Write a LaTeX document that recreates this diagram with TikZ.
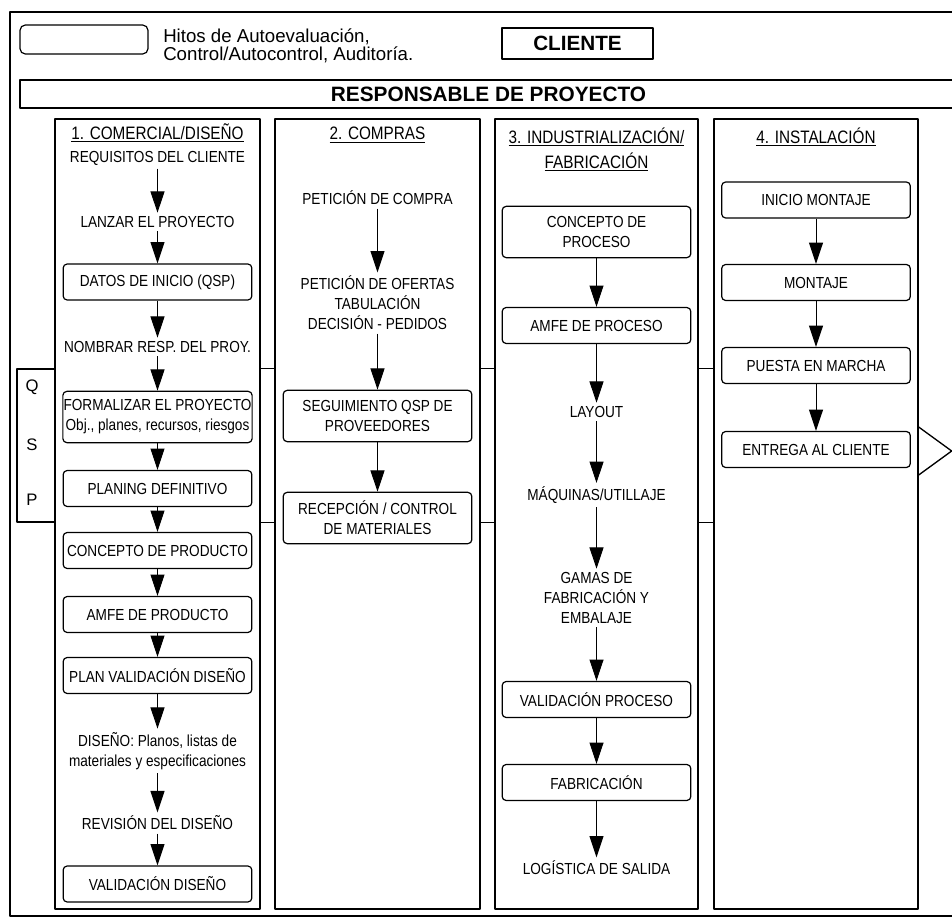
\documentclass[tikz,border=0pt]{standalone}
\usepackage{fontspec}
\setmainfont{Liberation Sans}
\newfontfamily\narrowsans[FakeStretch=0.85]{Liberation Sans}
\usetikzlibrary{arrows.meta}
\newcommand{\cbody}{\narrowsans\fontsize{12}{15}\selectfont}
\newcommand{\ctitle}{\narrowsans\fontsize{13.5}{18.75}\selectfont}

\begin{document}
\begin{tikzpicture}[x=0.75pt,y=-0.75pt,line join=round,
  outer/.style={line width=1.1pt},
  lane/.style={draw, line width=1pt, inner sep=0pt, minimum width=153.75pt, minimum height=592.5pt},
  band/.style={line width=0.9pt},
  stepbox/.style={draw, line width=0.9pt, rounded corners=3pt, inner xsep=0.5pt, inner ysep=0pt,
    minimum width=141.5pt, minimum height=27pt, align=center, font=\cbody},
  twobox/.style={stepbox, minimum height=38.5pt},
  lbl/.style={inner xsep=1pt, inner ysep=2.5pt, align=center, font=\cbody},
  lanetitle/.style={inner sep=1pt, align=center, font=\ctitle},
  qsplabel/.style={inner sep=1pt, font=\fontsize{12.5}{15}\selectfont},
  flow/.style={-{Triangle[width=10.5pt,length=16pt]}, line width=0.75pt},
]
\useasboundingbox (0,0) rectangle (952,920);
\clip (0,0) rectangle (952,920);

% outer frame (open to the right)
\draw[outer] (960,12) -- (10,12) -- (10,916) -- (960,916);

% legend and header
\node[draw, line width=0.9pt, rounded corners=4pt, minimum width=96pt, minimum height=21.75pt, inner sep=0pt] (legend) at (84,39.5) {};
\node[anchor=west, align=left, inner sep=0pt, font=\fontsize{14}{13.5}\selectfont] (legtext) at (163,45.5)
  {Hitos de Autoevaluación,\\Control/Autocontrol, Auditoría.};
\node[draw, line width=1pt, minimum width=113.25pt, minimum height=23.25pt, inner sep=0pt,
  font=\bfseries\fontsize{15.5}{18}\selectfont] (cliente) at (577.5,43.5) {CLIENTE};
\node[draw, line width=1pt, minimum width=702.75pt, minimum height=21pt, inner sep=0pt,
  font=\bfseries\fontsize{15.6}{18}\selectfont] (resp) at (488.5,94) {RESPONSABLE DE PROYECTO};

% swimlanes
\node[lane] (lane1) at (157.5,514) {};
\node[lane] (lane2) at (377.5,514) {};
\node[lane, minimum width=152.25pt] (lane3) at (596.5,514) {};
\node[lane, minimum width=153pt] (lane4) at (816,514) {};

% QSP band
\node[draw, line width=1pt, minimum width=28.5pt, minimum height=114.75pt, inner sep=0pt] (qsp) at (36,445.5) {};
\node[qsplabel] (qq) at (32,387) {Q};
\node[qsplabel] (qs) at (32,445) {S};
\node[qsplabel] (qp) at (32,500) {P};
\draw[band] (lane1.east |- qsp.north) -- (lane2.west |- qsp.north);
\draw[band] (lane2.east |- qsp.north) -- (lane3.west |- qsp.north);
\draw[band] (lane3.east |- qsp.north) -- (lane4.west |- qsp.north);
\draw[band] (lane1.east |- qsp.south) -- (lane2.west |- qsp.south);
\draw[band] (lane2.east |- qsp.south) -- (lane3.west |- qsp.south);
\draw[band] (lane3.east |- qsp.south) -- (lane4.west |- qsp.south);

% output pointer
\path (lane4.east) ++(0,-87) coordinate (tritop);
\path (lane4.east) ++(33,-63) coordinate (tritip);
\path (lane4.east) ++(0,-39) coordinate (tribot);
\draw[line width=1pt] (tritop) -- (tritip) -- (tribot);

% 1. Comercial / Diseño
\node[lanetitle] (t1) at (157.5,133) {\underline{1. COMERCIAL/DISEÑO}};
\node[lbl] (a1) at (157.5,158) {REQUISITOS DEL CLIENTE};
\node[lbl] (a2) at (157.5,222) {LANZAR EL PROYECTO};
\node[stepbox] (a3) at (157.5,282) {DATOS DE INICIO (QSP)};
\node[lbl] (a4) at (157.5,347) {NOMBRAR RESP. DEL PROY.};
\node[twobox] (a5) at (157.5,417) {FORMALIZAR EL PROYECTO\\Obj., planes, recursos, riesgos};
\node[stepbox] (a6) at (157.5,488.5) {PLANING DEFINITIVO};
\node[stepbox] (a7) at (157.5,550.5) {CONCEPTO DE PRODUCTO};
\node[stepbox] (a8) at (157.5,614.5) {AMFE DE PRODUCTO};
\node[stepbox] (a9) at (157.5,675.5) {PLAN VALIDACIÓN DISEÑO};
\node[lbl] (a10) at (157.5,751) {DISEÑO: Planos, listas de\\materiales y especificaciones};
\node[lbl] (a11) at (157.5,823) {REVISIÓN DEL DISEÑO};
\node[stepbox] (a12) at (157.5,884) {VALIDACIÓN DISEÑO};

% 2. Compras
\node[lanetitle] (t2) at (377.5,135) {\underline{2. COMPRAS}};
\node[lbl] (b1) at (377.5,198) {PETICIÓN DE COMPRA};
\node[lbl] (b2) at (377.5,303) {PETICIÓN DE OFERTAS\\TABULACIÓN\\DECISIÓN - PEDIDOS};
\node[twobox] (b3) at (377.5,416) {SEGUIMIENTO QSP DE\\PROVEEDORES};
\node[twobox] (b4) at (377.5,518) {RECEPCIÓN / CONTROL\\DE MATERIALES};

% 3. Industrialización / Fabricación
\node[lanetitle] (t3) at (596.5,149.5) {\underline{3. INDUSTRIALIZACIÓN/}\\\underline{FABRICACIÓN}};
\node[twobox] (c1) at (596.5,232) {CONCEPTO DE\\PROCESO};
\node[stepbox] (c2) at (596.5,325.5) {AMFE DE PROCESO};
\node[lbl] (c3) at (596.5,412) {LAYOUT};
\node[lbl] (c4) at (596.5,495) {MÁQUINAS/UTILLAJE};
\node[lbl] (c5) at (596.5,598) {GAMAS DE\\FABRICACIÓN Y\\EMBALAJE};
\node[stepbox] (c6) at (596.5,699.5) {VALIDACIÓN PROCESO};
\node[stepbox] (c7) at (596.5,782.5) {FABRICACIÓN};
\node[lbl] (c8) at (596.5,868) {LOGÍSTICA DE SALIDA};

% 4. Instalación
\node[lanetitle] (t4) at (816,137) {\underline{4. INSTALACIÓN}};
\node[stepbox] (d1) at (816,200) {INICIO MONTAJE};
\node[stepbox] (d2) at (816,282.5) {MONTAJE};
\node[stepbox] (d3) at (816,365.5) {PUESTA EN MARCHA};
\node[stepbox] (d4) at (816,449.5) {ENTREGA AL CLIENTE};

% flow arrows
\foreach \u/\v in {a1/a2,a2/a3,a3/a4,a4/a5,a5/a6,a6/a7,a7/a8,a8/a9,a9/a10,a10/a11,a11/a12,
  b1/b2,b2/b3,b3/b4,
  c1/c2,c2/c3,c3/c4,c4/c5,c5/c6,c6/c7,c7/c8,
  d1/d2,d2/d3,d3/d4}
  \draw[flow] (\u) -- (\v);
\end{tikzpicture}
\end{document}
